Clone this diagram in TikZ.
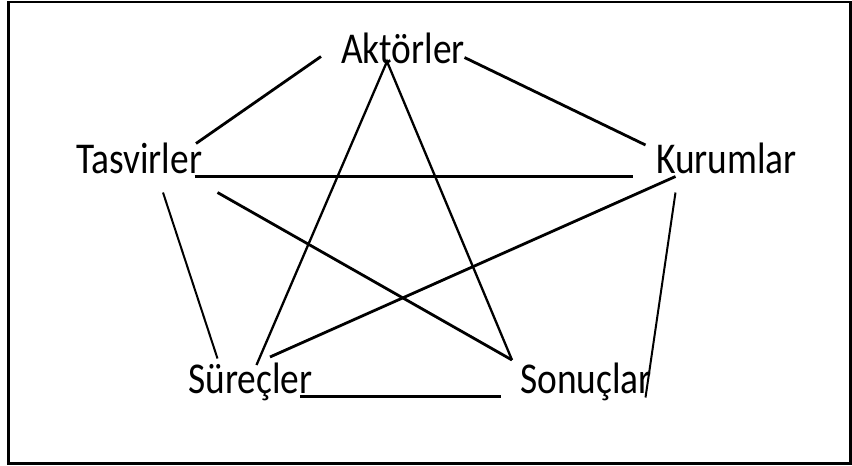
\documentclass[tikz,border=0pt]{standalone}
\usepackage{fontspec}
\setmainfont{Carlito}
\begin{document}
\begin{tikzpicture}[x=1pt,y=-1pt,
  lbl/.style={inner sep=0pt,anchor=base west,font=\fontsize{44}{50}\selectfont},
  thick line/.style={line width=2.8pt,line cap=butt},
  mid line/.style={line width=2.3pt},
  thin line/.style={line width=2pt}]
\useasboundingbox (0,0) rectangle (852,466);
\draw[line width=2.6pt] (8.5,2) rectangle (850.5,463.5);
% labels
\node[lbl] (akt) at (341,63) {\scalebox{0.85}[1]{Aktörler}};
\node[lbl] (tas) at (76,173) {\scalebox{0.85}[1]{Tasvirler}};
\node[lbl] (kur) at (656,173) {\scalebox{0.85}[1]{Kurumlar}};
\node[lbl] (sur) at (188,393) {\scalebox{0.85}[1]{Süreçler}};
\node[lbl] (son) at (520,393) {\scalebox{0.85}[1]{Sonuçlar}};
% connector end points
\coordinate (aT) at (321,56.5);
\coordinate (tA) at (196,143.5);
\coordinate (aK) at (464.5,57.5);
\coordinate (kA) at (645.5,145);
\coordinate (tK) at (194.5,176.5);
\coordinate (kT) at (633,176.5);
\coordinate (aB) at (387,61.5);
\coordinate (sA) at (256.5,365);
\coordinate (oA) at (512,360);
\coordinate (tO) at (217.5,192.5);
\coordinate (kS) at (675.5,176.5);
\coordinate (sK) at (270,357);
\coordinate (tS) at (163,192.5);
\coordinate (sT) at (217.5,358.5);
\coordinate (kO) at (675.5,192.5);
\coordinate (oK) at (645.5,397.5);
\coordinate (sO) at (300,396.5);
\coordinate (oS) at (501,396.5);
% connectors
\draw[thick line] (aT) -- (tA);
\draw[thick line] (aK) -- (kA);
\draw[thick line] (tK) -- (kT);
\draw[mid line] (sA) -- (aB) -- (oA);
\draw[thick line] (tO) -- (oA);
\draw[thick line] (kS) -- (sK);
\draw[thin line] (tS) -- (sT);
\draw[thin line] (kO) -- (oK);
\draw[thick line] (sO) -- (oS);
\end{tikzpicture}
\end{document}
